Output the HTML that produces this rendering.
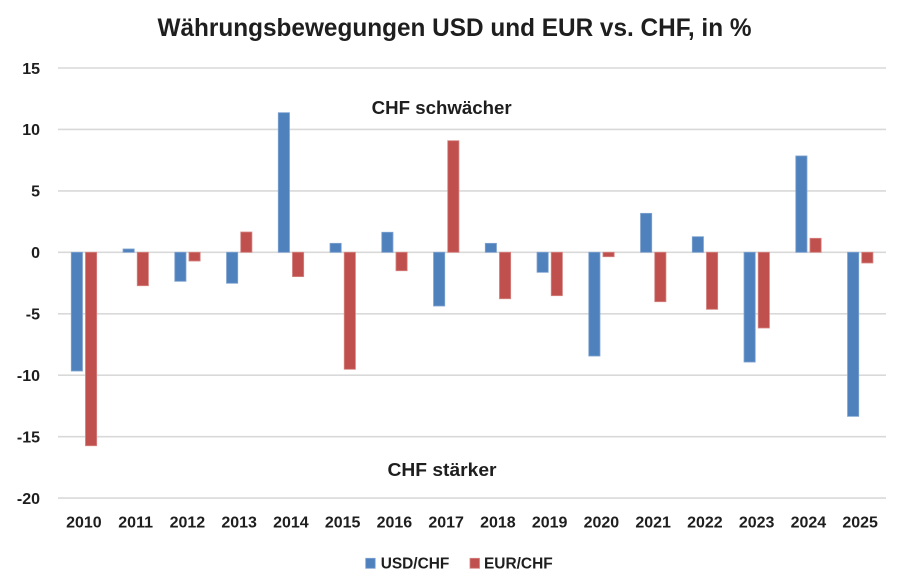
<!DOCTYPE html>
<html>
<head>
<meta charset="utf-8">
<style>
  html,body{margin:0;padding:0;background:#fff;}
  svg{display:block;}
  text{font-family:"Liberation Sans",Arial,sans-serif;font-weight:bold;fill:#1e1e1e;}
</style>
</head>
<body>
<svg width="900" height="577" viewBox="0 0 900 577" xmlns="http://www.w3.org/2000/svg">
  <rect width="900" height="577" fill="#fff"/>
  <!-- title -->
  <text x="454.5" y="36" font-size="25" text-anchor="middle" textLength="594" lengthAdjust="spacingAndGlyphs">Währungsbewegungen USD und EUR vs. CHF, in %</text>

  <!-- gridlines -->
  <g stroke="#d9d9d9" stroke-width="1.6">
    <line x1="58" x2="886" y1="68.0" y2="68.0"/>
    <line x1="58" x2="886" y1="129.4" y2="129.4"/>
    <line x1="58" x2="886" y1="190.9" y2="190.9"/>
    <line x1="58" x2="886" y1="252.3" y2="252.3"/>
    <line x1="58" x2="886" y1="313.8" y2="313.8"/>
    <line x1="58" x2="886" y1="375.2" y2="375.2"/>
    <line x1="58" x2="886" y1="436.7" y2="436.7"/>
    <line x1="58" x2="886" y1="498.1" y2="498.1"/>
  </g>

  <!-- y labels -->
  <g font-size="16" text-anchor="end">
    <text x="40" y="73.8">15</text>
    <text x="40" y="135.2">10</text>
    <text x="40" y="196.7">5</text>
    <text x="40" y="258.1">0</text>
    <text x="40" y="319.6">-5</text>
    <text x="40" y="381.0">-10</text>
    <text x="40" y="442.5">-15</text>
    <text x="40" y="503.9">-20</text>
  </g>

  <!-- annotations -->
  <text x="441.7" y="114" font-size="18" text-anchor="middle" textLength="140" lengthAdjust="spacingAndGlyphs">CHF schwächer</text>
  <text x="442" y="476" font-size="18" text-anchor="middle" textLength="109" lengthAdjust="spacingAndGlyphs">CHF stärker</text>

  <!-- bars -->
  <g id="bars"></g>

  <!-- x labels -->
  <g id="xl" font-size="16" text-anchor="middle"></g>

  <!-- legend -->
  <rect x="365.7" y="558.3" width="9.5" height="10" fill="#4F81BD" stroke="#7fa3d0" stroke-width="0.8"/>
  <text x="380.7" y="568.3" font-size="16" textLength="68.6" lengthAdjust="spacingAndGlyphs">USD/CHF</text>
  <rect x="470" y="558.3" width="9.5" height="10" fill="#C0504D" stroke="#d58583" stroke-width="0.8"/>
  <text x="484" y="568.3" font-size="16" textLength="68.7" lengthAdjust="spacingAndGlyphs">EUR/CHF</text>

  <script>
  (function(){
    var ns="http://www.w3.org/2000/svg";
    var usd=[-9.66,0.27,-2.36,-2.52,11.36,0.73,1.63,-4.37,0.73,-1.63,-8.44,3.17,1.27,-8.93,7.84,-13.35];
    var eur=[-15.74,-2.72,-0.71,1.65,-1.98,-9.52,-1.5,9.08,-3.78,-3.53,-0.36,-4.02,-4.64,-6.16,1.14,-0.87];
    var g=document.getElementById("bars"), xl=document.getElementById("xl");
    function y(v){return 252.3-v*12.29;}
    function bar(x,v,fill,stroke){
      var r=document.createElementNS(ns,"rect");
      var y0=y(0), y1=y(v);
      r.setAttribute("x",x);
      r.setAttribute("y",Math.min(y0,y1));
      r.setAttribute("width",11.2);
      r.setAttribute("height",Math.max(Math.abs(y1-y0),0.8));
      r.setAttribute("fill",fill);
      r.setAttribute("stroke",stroke);
      r.setAttribute("stroke-width","0.8");
      g.appendChild(r);
    }
    for(var i=0;i<16;i++){
      var c=58+(i+0.5)*51.75;
      bar(c-12.6,usd[i],"#4F81BD","#7fa3d0");
      bar(c+1.6,eur[i],"#C0504D","#d58583");
      var t=document.createElementNS(ns,"text");
      t.setAttribute("x",c);
      t.setAttribute("y",527.3);
      t.textContent=String(2010+i);
      xl.appendChild(t);
    }
  })();
  </script>
</svg>
</body>
</html>
